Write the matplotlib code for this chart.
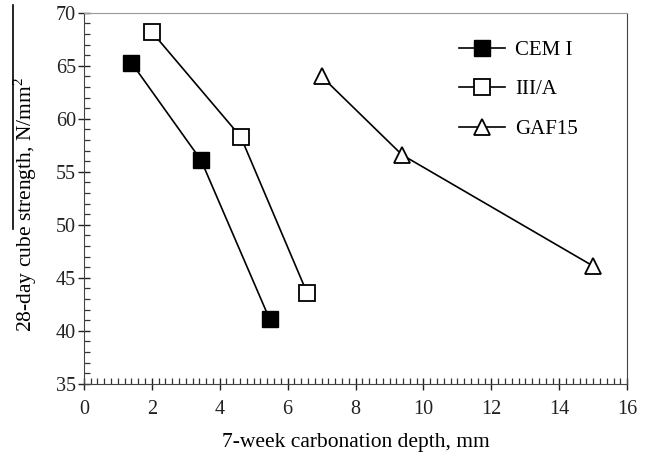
import matplotlib
matplotlib.use('Agg')
import matplotlib.pyplot as plt
from matplotlib.ticker import MultipleLocator
from matplotlib.lines import Line2D

plt.rcParams['font.family'] = ['Liberation Serif', 'DejaVu Serif']
plt.rcParams['mathtext.fontset'] = 'custom'
plt.rcParams['mathtext.rm'] = 'Liberation Serif'

# data
cem_x = [1.4, 3.45, 5.47]
cem_y = [65.3, 56.1, 41.1]
iii_x = [2.0, 4.62, 6.57]
iii_y = [68.2, 58.3, 43.6]
gaf_x = [7.0, 9.37, 15.0]
gaf_y = [64.0, 56.6, 46.1]
labels = ['CEM I', 'III/A', 'GAF15']

fig = plt.figure(figsize=(6.5, 4.58), dpi=100)
ax = fig.add_axes([0.129, 0.162, 0.836, 0.810])

ax.plot(cem_x, cem_y, color='black', lw=1.2, marker='s', ms=11.5,
        mfc='black', mec='black', label=labels[0])
ax.plot(iii_x, iii_y, color='black', lw=1.2, marker='s', ms=11.5,
        mfc='white', mec='black', mew=1.3, label=labels[1])
ax.plot(gaf_x, gaf_y, color='black', lw=1.2, marker='^', ms=12,
        mfc='white', mec='black', mew=1.3, label=labels[2])

ax.set_xlim(0, 16)
ax.set_ylim(35, 70)
ax.xaxis.set_major_locator(MultipleLocator(2))
ax.xaxis.set_minor_locator(MultipleLocator(0.2))
ax.yaxis.set_major_locator(MultipleLocator(5))
ax.yaxis.set_minor_locator(MultipleLocator(1))
ax.tick_params(which='major', direction='inout', length=9, width=1,
               labelsize=14.5, colors='#222222')
ax.tick_params(which='minor', direction='in', length=4, width=0.9, colors='#333333')
ax.tick_params(axis='x', pad=7)
ax.tick_params(axis='y', pad=1)

ax.spines['top'].set_color('#999999')
for s in ['left', 'bottom', 'right']:
    ax.spines[s].set_color('#444444')

ax.set_xlabel('7-week carbonation depth, mm', fontsize=15.5, labelpad=10)
ax.set_ylabel('28-day cube strength, N/mm$^2$', fontsize=15.5)
ax.yaxis.set_label_coords(-0.083, 0.482)

ax.legend(loc='upper left', bbox_to_anchor=(0.656, 0.976), frameon=False,
          fontsize=15, labelspacing=0.95, handlelength=2.2, handletextpad=0.5)

# thin vertical line at the left edge of the scan
fig.add_artist(Line2D([0.020, 0.020], [0.50, 0.99], color='black', lw=1.2))

fig.savefig('out.png', dpi=100)
